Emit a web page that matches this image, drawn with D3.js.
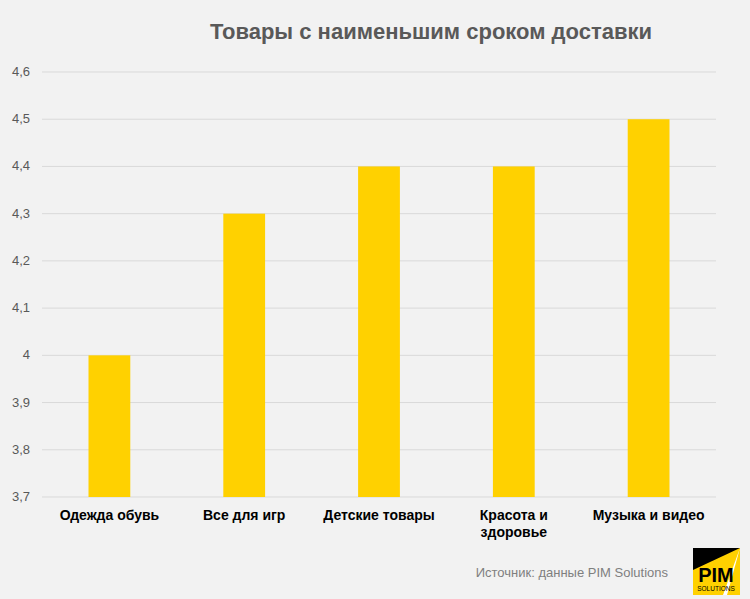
<!DOCTYPE html><html><head><meta charset="utf-8"><script src="https://cdn.jsdelivr.net/npm/d3@7"></script>
<style>body{margin:0;background:#f2f2f2}</style></head><body><svg id="c" width="750" height="599"></svg><script>
const categories=["Одежда обувь","Все для игр","Детские товары","Красота и|здоровье","Музыка и видео"];
const values=[4.0,4.3,4.4,4.4,4.5];
const ticks=[3.7,3.8,3.9,4.0,4.1,4.2,4.3,4.4,4.5,4.6];
const svg=d3.select("#c");
svg.append("rect").attr("width",750).attr("height",599).attr("fill","#f2f2f2");
const x=d3.scaleBand().domain(categories).range([42,716]).paddingInner(0.69).paddingOuter(0.345);
const y=d3.scaleLinear().domain([3.7,4.6]).range([497,72]);
const fmt=d=>(d===4?"4":d3.format(".1f")(d).replace(".",","));
svg.append("g").selectAll("line").data(ticks).join("line").attr("x1",42).attr("x2",716)
 .attr("y1",d=>y(d)).attr("y2",d=>y(d)).attr("stroke","#d9d9d9");
svg.append("g").selectAll("text").data(ticks).join("text").attr("x",30).attr("y",d=>y(d)+4)
 .attr("text-anchor","end").attr("font-family","Liberation Sans, Arial").attr("font-size",13).attr("fill","#595959").text(fmt);
svg.append("g").selectAll("rect").data(values).join("rect").attr("x",(d,i)=>x(categories[i])).attr("width",x.bandwidth())
 .attr("y",d=>y(d)).attr("height",d=>497-y(d)).attr("fill","#ffd100");
const lab=svg.append("g").selectAll("text").data(categories).join("text").attr("x",d=>x(d)+x.bandwidth()/2).attr("y",520)
 .attr("text-anchor","middle").attr("font-family","Liberation Sans, Arial").attr("font-weight","bold").attr("font-size",14).attr("fill","#000");
lab.each(function(d){const t=d3.select(this);d.split("|").forEach((s,i)=>t.append("tspan").attr("x",t.attr("x")).attr("dy",i?17:0).text(s));});
svg.append("text").attr("x",431).attr("y",39).attr("text-anchor","middle").attr("font-family","Liberation Sans, Arial")
 .attr("font-weight","bold").attr("font-size",22).attr("fill","#595959").text("Товары с наименьшим сроком доставки");
svg.append("text").attr("x",668).attr("y",577).attr("text-anchor","end").attr("font-family","Liberation Sans, Arial")
 .attr("font-size",13).attr("fill","#7f7f7f").text("Источник: данные PIM Solutions");
const g=svg.append("g").attr("transform","translate(693,548)");
g.append("rect").attr("width",47).attr("height",47).attr("fill","#ffd100");
g.append("path").attr("d","M0,0H47L0,22Z").attr("fill","#000");
g.append("path").attr("d","M47,0L30,47H34Z").attr("fill","#fff");
g.append("text").attr("x",23).attr("y",34).attr("text-anchor","middle").attr("font-family","Liberation Sans, Arial").attr("font-weight","bold").attr("font-size",20).attr("fill","#000").text("PIM");
g.append("text").attr("x",23).attr("y",43).attr("text-anchor","middle").attr("font-family","Liberation Sans, Arial").attr("font-size",6.5).attr("fill","#000").text("SOLUTIONS");
</script></body></html>
